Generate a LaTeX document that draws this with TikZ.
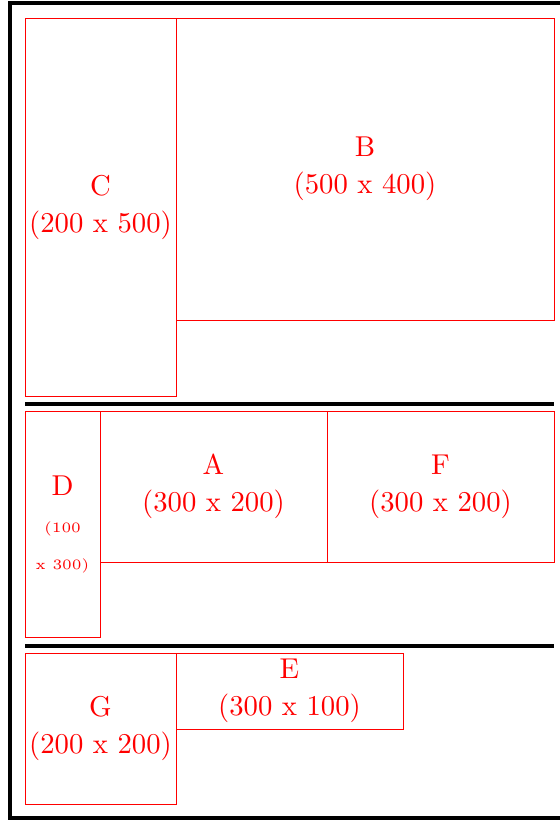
\documentclass[tikz,border=0pt]{standalone}
\usepackage{fontspec}
\newfontfamily\lmten{lmroman10-regular.otf}
\newfontfamily\lmfive{lmroman5-regular.otf}
\begin{document}
\begin{tikzpicture}[x=1pt,y=-1pt,
  box/.style={draw=red, line width=1pt, text=red, inner sep=0pt, align=center,
    font=\lmten\fontsize{28.7}{37}\selectfont},
  frame/.style={line width=4pt, black},
  sep/.style={line width=4pt, black}]
\clip (0,0) rectangle (560,820);
\draw[frame] (600,3) -- (10,3) -- (10,818) -- (600,818);
% section 1
\node[box, minimum width=151pt, minimum height=378pt] (C) at (100.5,207) {C\\(200 x 500)};
\node[box, minimum width=378pt, minimum height=302pt] (B) at (365,169) {B\\(500 x 400)};
\coordinate (s1a) at (25,404);
\coordinate (s1b) at (554,404);
\draw[sep] (s1a) -- (s1b);
% section 2
\node[box, minimum width=75pt, minimum height=226pt] (D) at (62.5,524)
  {D\\[0pt]{\lmfive\fontsize{14.3}{35}\selectfont (100}\\{\lmfive\fontsize{14.3}{35}\selectfont x 300)}};
\node[box, minimum width=227pt, minimum height=151pt] (A) at (213.5,486.5) {A\\(300 x 200)};
\node[box, minimum width=227pt, minimum height=151pt] (F) at (440.5,486.5) {F\\(300 x 200)};
\coordinate (s2a) at (25,646);
\coordinate (s2b) at (554,646);
\draw[sep] (s2a) -- (s2b);
% section 3
\node[box, minimum width=151pt, minimum height=151pt] (G) at (100.5,728.5) {G\\(200 x 200)};
\node[box, minimum width=227pt, minimum height=76pt] (E) at (289.5,691) {E\\(300 x 100)};
\end{tikzpicture}
\end{document}
